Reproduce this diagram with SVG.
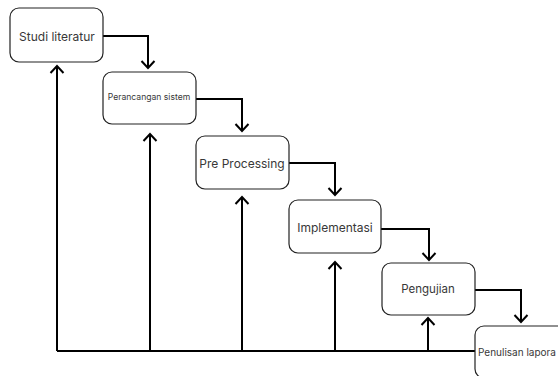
<svg xmlns="http://www.w3.org/2000/svg" width="558" height="376" viewBox="0 0 558 376">
<defs>
<marker id="arr" markerUnits="userSpaceOnUse" markerWidth="20" markerHeight="20" viewBox="-10 -10 20 20" refX="0" refY="0" orient="auto">
<path d="M-7,-6.5 L0,0 L-7,6.5" fill="none" stroke="#000" stroke-width="2"/>
</marker>
</defs>
<style>
.box{fill:#fff;stroke:#222;stroke-width:1.2}
.t{font-family:Inter,"Noto Sans","Liberation Sans",sans-serif;fill:#383838;text-anchor:middle;dominant-baseline:central}
.c{fill:none;stroke:#000;stroke-width:2}
</style>
<rect width="558" height="376" fill="#fff"/>
<g id="connectors">
<path class="c" d="M103,36 H148 V68" marker-end="url(#arr)"/>
<path class="c" d="M196,99 H242 V131" marker-end="url(#arr)"/>
<path class="c" d="M289,163 H335 V195" marker-end="url(#arr)"/>
<path class="c" d="M381,229 H429 V260" marker-end="url(#arr)"/>
<path class="c" d="M475,290 H521 V322" marker-end="url(#arr)"/>
<path class="c" d="M475,351 H57"/>
<path class="c" d="M57,351 V66" marker-end="url(#arr)"/>
<path class="c" d="M150,351 V134" marker-end="url(#arr)"/>
<path class="c" d="M242,351 V197" marker-end="url(#arr)"/>
<path class="c" d="M335,351 V262" marker-end="url(#arr)"/>
<path class="c" d="M428,351 V318" marker-end="url(#arr)"/>
</g>
<g id="n1"><rect class="box" x="10" y="8" width="93" height="54" rx="9"/><text class="t" x="57" y="36" font-size="12">Studi literatur</text></g>
<g id="n2"><rect class="box" x="103" y="72" width="93" height="52" rx="9"/><text class="t" x="149" y="97" font-size="8.6">Perancangan sistem</text></g>
<g id="n3"><rect class="box" x="196" y="136" width="93" height="53" rx="9"/><text class="t" x="242" y="163" font-size="12">Pre Processing</text></g>
<g id="n4"><rect class="box" x="289" y="200" width="92" height="53" rx="9"/><text class="t" x="335" y="227" font-size="12">Implementasi</text></g>
<g id="n5"><rect class="box" x="382" y="263" width="93" height="52" rx="9"/><text class="t" x="428" y="289" font-size="11.5">Pengujian</text></g>
<g id="n6"><rect class="box" x="475" y="326" width="93" height="52" rx="9"/><text class="t" x="478" y="352" font-size="10" style="text-anchor:start">Penulisan lapora</text></g>
</svg>
